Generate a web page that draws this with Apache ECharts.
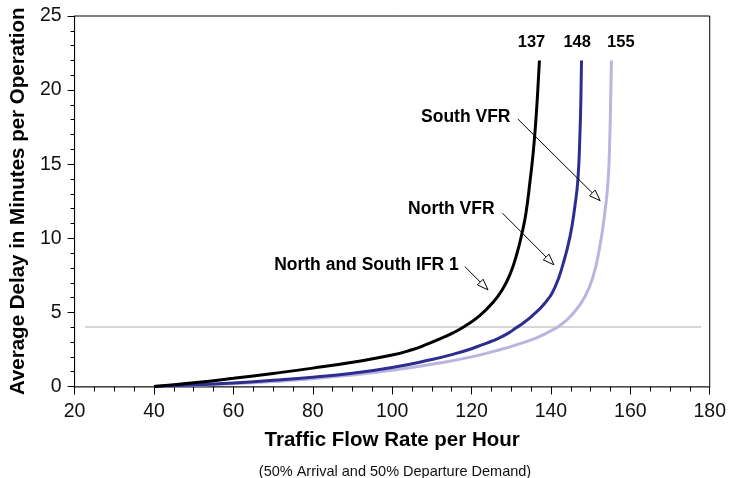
<!DOCTYPE html>
<html>
<head>
<meta charset="utf-8">
<script src="https://cdn.jsdelivr.net/npm/echarts@6/dist/echarts.min.js"></script>
<style>html,body{margin:0;padding:0;background:#fff}#c{width:729px;height:478px}</style>
</head>
<body>
<div id="c"></div>
<script>
// ---- data ----
const xTicks = [20, 40, 60, 80, 100, 120, 140, 160, 180];
const yTicks = [0, 5, 10, 15, 20, 25];

const ifrX = [40, 50, 60, 70, 80, 90, 100, 105, 108.5, 111.9, 115.2, 118.5, 121.9, 125.2, 127.7, 129.8, 131.45, 132.7, 133.7, 134.75, 135.5, 136.1, 136.6, 137.1];
const ifrY = [0, 0.25, 0.55, 0.88, 1.24, 1.64, 2.12, 2.48, 2.82, 3.2, 3.6, 4.1, 4.75, 5.61, 6.51, 7.64, 8.99, 10.34, 11.69, 13.9, 15.7, 17.6, 19.6, 22];

const northX = [40, 50, 60, 70, 80, 90, 100, 110, 115, 120, 124, 126.5, 129.4, 131.05, 132.7, 135.2, 138.55, 141.05, 143.1, 144.8, 146.0, 146.8, 147.3, 147.55, 147.7];
const northY = [0, 0.1, 0.24, 0.42, 0.63, 0.9, 1.28, 1.82, 2.15, 2.55, 2.95, 3.22, 3.62, 3.93, 4.22, 4.75, 5.65, 6.73, 8.31, 10.11, 12.1, 14.0, 17.0, 19.5, 22];

const southX = [40, 50, 60, 70, 80, 90, 100, 110, 120, 128, 132, 136.05, 139, 141.9, 143.8, 145.6, 148.55, 150.6, 152.3, 153.55, 154.4, 154.85, 155.05, 155.25];
const southY = [0, 0.08, 0.19, 0.33, 0.52, 0.78, 1.1, 1.5, 2.0, 2.55, 2.88, 3.25, 3.62, 4.05, 4.45, 4.94, 6.06, 7.41, 9.43, 11.69, 13.93, 17.0, 19.5, 22];

const refLevel = 4.05;
const refRange = [22.6, 177.8];

const capLabels = ['137', '148', '155'];
const capX = [135.1, 146.6, 157.6];
const capY = 23.2;

const noteText = ['South VFR', 'North VFR', 'North and South IFR 1'];
const noteAt = [[129.8, 18.2], [125.8, 11.95], [116.8, 8.2]];
const arrowFrom = [[131.65, 18.05], [127.8, 11.69], [118.3, 8.09]];
const arrowTo = [[152.4, 12.54], [140.75, 8.21], [124.15, 6.52]];

// ---- chart ----
const FONT = '"Liberation Sans", Arial, sans-serif';
const chart = echarts.init(document.getElementById('c'), null, {renderer: 'canvas'});
const zip = (xs, ys) => xs.map((x, i) => [x, ys[i]]);

const lineSeries = (name, xs, ys, color) => ({
  name, type: 'line', data: zip(xs, ys), showSymbol: false, symbol: 'none',
  smooth: 0.5,
  lineStyle: {color, width: 3}, z: 5, silent: true
});

chart.setOption({
  animation: false,
  backgroundColor: '#fff',
  textStyle: {fontFamily: FONT},
  grid: {left: 72.5, right: 16.5, top: 16, bottom: 91.5, show: true, borderColor: '#000', borderWidth: 1, backgroundColor: 'transparent'},
  title: {
    text: '(50% Arrival and 50% Departure Demand)',
    left: 390, top: 459.5, textAlign: 'center',
    textStyle: {fontFamily: FONT, fontSize: 14.5, fontWeight: 'normal', color: '#111'}
  },
  xAxis: {
    type: 'value', min: xTicks[0], max: xTicks[xTicks.length - 1], interval: 20,
    name: 'Traffic Flow Rate per Hour', nameLocation: 'middle', nameGap: 43,
    nameTextStyle: {fontFamily: FONT, fontSize: 20.5, fontWeight: 'bold', color: '#000'},
    axisLine: {show: true, lineStyle: {color: '#666', width: 1.5}},
    axisTick: {show: true, inside: false, length: 8, lineStyle: {color: '#000', width: 1}},
    minorTick: {show: true, splitNumber: 4, length: 5, lineStyle: {color: '#000', width: 1}},
    axisLabel: {fontFamily: FONT, fontSize: 19.5, color: '#111', margin: 15},
    splitLine: {show: false}
  },
  yAxis: {
    type: 'value', min: yTicks[0], max: yTicks[yTicks.length - 1], interval: 5,
    name: 'Average Delay in Minutes per Operation', nameLocation: 'middle', nameGap: 40,
    nameTextStyle: {fontFamily: FONT, fontSize: 20.5, fontWeight: 'bold', color: '#000'},
    axisLine: {show: true, lineStyle: {color: '#000', width: 1}},
    axisTick: {show: true, inside: false, length: 7, lineStyle: {color: '#000', width: 1}},
    minorTick: {show: true, splitNumber: 5, length: 4, lineStyle: {color: '#000', width: 1}},
    axisLabel: {fontFamily: FONT, fontSize: 19.5, color: '#111', margin: 13},
    splitLine: {show: false}
  },
  series: [
    {
      type: 'line', data: [], silent: true,
      markLine: {
        silent: true, symbol: 'none', animation: false,
        lineStyle: {color: '#c8c8c8', width: 1.5, type: 'solid'},
        label: {show: false},
        data: [[{coord: [refRange[0], refLevel]}, {coord: [refRange[1], refLevel]}]]
      }
    },
    lineSeries('South VFR', southX, southY, '#bab5df'),
    lineSeries('North VFR', northX, northY, '#2d2d91'),
    lineSeries('North and South IFR 1', ifrX, ifrY, '#000000'),
    {
      type: 'custom', silent: true, z: 8,
      data: arrowFrom.map((p, i) => [p[0], p[1], arrowTo[i][0], arrowTo[i][1]]),
      renderItem: function (params, api) {
        const a = api.coord([api.value(0), api.value(1)]);
        const b = api.coord([api.value(2), api.value(3)]);
        const dx = b[0] - a[0], dy = b[1] - a[1];
        const L = Math.sqrt(dx * dx + dy * dy);
        const ux = dx / L, uy = dy / L;
        const hl = 11, hw = 4;
        const base = [b[0] - ux * hl, b[1] - uy * hl];
        const p1 = [base[0] - uy * hw, base[1] + ux * hw];
        const p2 = [base[0] + uy * hw, base[1] - ux * hw];
        return {
          type: 'group',
          children: [
            {type: 'line', shape: {x1: a[0], y1: a[1], x2: base[0], y2: base[1]}, style: {stroke: '#000', lineWidth: 1}},
            {type: 'polygon', shape: {points: [b, p1, p2]}, style: {fill: '#fff', stroke: '#000', lineWidth: 1}}
          ]
        };
      }
    },
    {
      type: 'custom', silent: true, z: 9,
      data: noteText.map((t, i) => [noteAt[i][0], noteAt[i][1], t]),
      renderItem: function (params, api) {
        const p = api.coord([api.value(0), api.value(1)]);
        return {type: 'text', x: p[0], y: p[1], style: {text: noteText[params.dataIndex], align: 'right', verticalAlign: 'middle', font: 'bold 17.5px ' + FONT, fill: '#000'}};
      }
    },
    {
      type: 'custom', silent: true, z: 9,
      data: capX.map((x, i) => [x, capY, capLabels[i]]),
      renderItem: function (params, api) {
        const p = api.coord([api.value(0), api.value(1)]);
        return {type: 'text', x: p[0], y: p[1], style: {text: capLabels[params.dataIndex], align: 'center', verticalAlign: 'middle', font: 'bold 16.5px ' + FONT, fill: '#000'}};
      }
    }
  ]
});
</script>
</body>
</html>
